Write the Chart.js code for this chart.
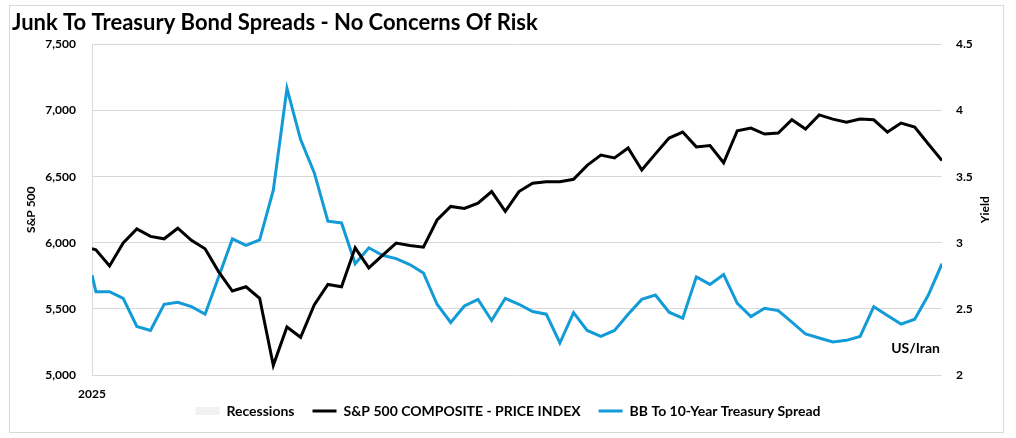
<!DOCTYPE html>
<html>
<head>
<meta charset="utf-8">
<script src="https://cdn.jsdelivr.net/npm/chart.js@4.4.0/dist/chart.umd.min.js"></script>
<style>
  body { margin: 0; background: #fff; }
  #wrap { position: relative; width: 1016px; height: 438px; }
  #frame {
    position: absolute; left: 9px; top: 5px; width: 995px; height: 428px;
    border: 1px solid #d9d9d9; box-sizing: border-box; pointer-events: none;
  }
</style>
</head>
<body>
<div id="wrap">
  <canvas id="spreadChart" width="1016" height="438"></canvas>
  <div id="frame"></div>
</div>
<script>
// 週次データ（2025年1月1日からの日数）
const dayOffsets = [0, 2, 9, 16, 23, 30, 37, 44, 51, 58, 65, 72, 79, 86, 93, 100,
  107, 114, 121, 128, 135, 142, 149, 156, 163, 170, 177, 184, 191, 198, 205, 212,
  219, 226, 233, 240, 247, 254, 261, 268, 275, 282, 289, 296, 303, 310, 317, 324,
  331, 338, 345, 352, 359, 366, 373, 380, 387, 394, 401, 408, 415, 422, 429, 436];

// S&P 500 終値
const spxValues = [5955, 5947, 5825, 5998, 6105, 6048, 6030, 6110, 6018, 5955,
  5780, 5635, 5667, 5580, 5073, 5363, 5285, 5530, 5685, 5667, 5962, 5810, 5905,
  5998, 5980, 5967, 6172, 6275, 6260, 6300, 6387, 6237, 6387, 6450, 6462, 6462,
  6480, 6585, 6663, 6642, 6717, 6550, 6672, 6792, 6837, 6725, 6735, 6605, 6847,
  6867, 6822, 6830, 6930, 6860, 6967, 6935, 6912, 6935, 6930, 6837, 6905, 6875,
  6747, 6622];

// BB - 10年国債スプレッド
const spreadValues = [2.755, 2.63, 2.63, 2.58, 2.367, 2.337, 2.535, 2.55, 2.517,
  2.46, 2.743, 3.03, 2.98, 3.022, 3.397, 4.167, 3.78, 3.53, 3.163, 3.15, 2.842,
  2.962, 2.905, 2.88, 2.835, 2.772, 2.535, 2.397, 2.522, 2.572, 2.412, 2.58, 2.535,
  2.48, 2.46, 2.242, 2.472, 2.337, 2.292, 2.337, 2.46, 2.572, 2.605, 2.475, 2.43,
  2.742, 2.685, 2.76, 2.542, 2.442, 2.505, 2.487, 2.4, 2.31, 2.28, 2.25, 2.262,
  2.292, 2.517, 2.45, 2.385, 2.422, 2.605, 2.842];

const xTickValues = [0];
const xTickLabels = ["2025"];
const seriesNames = ["S&P 500 COMPOSITE - PRICE INDEX", "BB To 10-Year Treasury Spread"];
const recessionLabel = "Recessions";
const annotationText = "US/Iran";

const FONT = "Lato, 'Open Sans', sans-serif";
const BLUE = "#139bd7";
const GRID = "#d9d9d9";

// 軸タイトルと注記
const extraText = {
  id: "extraText",
  afterDraw(chart) {
    const ctx = chart.ctx;
    const area = chart.chartArea;
    const midY = (area.top + area.bottom) / 2;
    ctx.save();
    ctx.fillStyle = "#000";
    ctx.font = "bold 12px " + FONT;
    ctx.textAlign = "center";
    ctx.textBaseline = "middle";
    [[31, "S&P 500"], [985, "Yield"]].forEach(([x, t]) => {
      ctx.save();
      ctx.translate(x, midY);
      ctx.rotate(-Math.PI / 2);
      ctx.fillText(t, 0, 0);
      ctx.restore();
    });
    ctx.font = "bold 14px " + FONT;
    ctx.textAlign = "right";
    ctx.fillText(annotationText, area.right - 2, chart.scales.y2.getPixelForValue(2.2));
    ctx.restore();
  },
};

const ctx = document.getElementById("spreadChart").getContext("2d");
const chart = new Chart(ctx, {
  type: "line",
  data: {
    datasets: [
      {
        label: seriesNames[0],
        data: dayOffsets.map((d, i) => ({ x: d, y: spxValues[i] })),
        borderColor: "#000",
        borderWidth: 3,
        pointRadius: 0,
        tension: 0,
        yAxisID: "y",
      },
      {
        label: seriesNames[1],
        data: dayOffsets.map((d, i) => ({ x: d, y: spreadValues[i] })),
        borderColor: BLUE,
        borderWidth: 3,
        pointRadius: 0,
        tension: 0,
        yAxisID: "y2",
      },
    ],
  },
  options: {
    responsive: false,
    animation: false,
    layout: { padding: { left: 12, right: 12, top: 4, bottom: 10 } },
    plugins: {
      title: {
        display: true,
        text: "Junk To Treasury Bond Spreads - No Concerns Of Risk",
        align: "start",
        color: "#000",
        font: { family: FONT, size: 22, weight: "bold" },
        padding: { top: 6, bottom: 8 },
      },
      legend: {
        position: "bottom",
        onClick: null,
        labels: {
          color: "#000",
          font: { family: FONT, size: 14, weight: "bold" },
          usePointStyle: true,
          pointStyleWidth: 24,
          boxHeight: 8,
          padding: 18,
          generateLabels: () => [
            { text: recessionLabel, fillStyle: "#f2f2f2", strokeStyle: "#f2f2f2", lineWidth: 0, pointStyle: "rect", hidden: false },
            { text: seriesNames[0], fillStyle: "#000", strokeStyle: "#000", lineWidth: 3, pointStyle: "line", hidden: false, datasetIndex: 0 },
            { text: seriesNames[1], fillStyle: BLUE, strokeStyle: BLUE, lineWidth: 3, pointStyle: "line", hidden: false, datasetIndex: 1 },
          ],
        },
      },
      tooltip: { enabled: false },
    },
    scales: {
      x: {
        type: "linear",
        min: 0,
        max: 436,
        grid: { display: false },
        border: { display: false },
        afterBuildTicks: (scale) => {
          scale.ticks = xTickValues.map((v) => ({ value: v }));
        },
        afterFit: (scale) => { scale.height = 11; },
        ticks: {
          maxRotation: 0,
          autoSkip: false,
          mirror: true, // ラベルを軸枠でクリップさせない
          color: "#000",
          font: { family: FONT, size: 12, weight: "bold" },
          padding: -26,
          callback: (v) => xTickLabels[xTickValues.indexOf(v)],
        },
      },
      y: {
        position: "left",
        min: 5000,
        max: 7500,
        afterFit: (scale) => { scale.width = 80; },
        grid: { color: GRID, lineWidth: 1, drawTicks: false },
        border: { display: true, color: GRID, width: 1 },
        ticks: {
          stepSize: 500,
          padding: 16,
          color: "#000",
          font: { family: FONT, size: 12, weight: "bold" },
          callback: (v) => v.toLocaleString("en-US"),
        },
      },
      y2: {
        position: "right",
        min: 2,
        max: 4.5,
        afterFit: (scale) => { scale.width = 62; },
        grid: { display: false, drawTicks: false },
        border: { display: false },
        ticks: {
          stepSize: 0.5,
          padding: 14,
          color: "#000",
          font: { family: FONT, size: 12, weight: "bold" },
          callback: (v) => String(v),
        },
      },
    },
  },
  plugins: [extraText],
});
</script>
</body>
</html>
